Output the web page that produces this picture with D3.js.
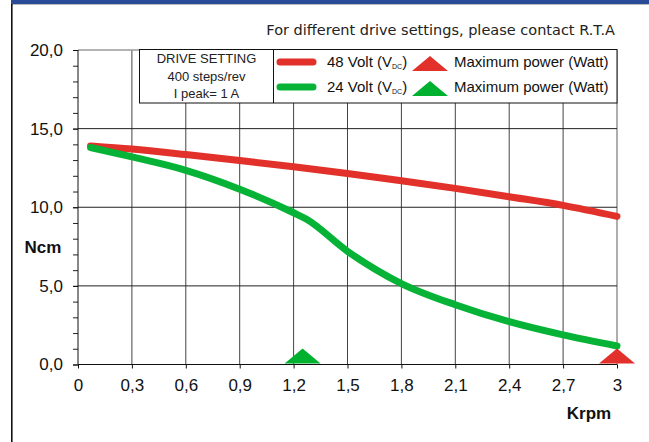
<!DOCTYPE html>
<html>
<head>
<meta charset="utf-8">
<script src="https://cdn.jsdelivr.net/npm/d3@7"></script>
<style>
  body { margin: 0; background: #fff; }
  svg { display: block; }
</style>
</head>
<body>
<svg id="chart"></svg>
<script>
// torque curves, Krpm -> Ncm
const speed48 = [0.07, 0.3, 0.6, 0.9, 1.2, 1.5, 1.8, 2.1, 2.4, 2.7, 3.0];
const torque48 = [13.9, 13.7, 13.35, 12.97, 12.58, 12.15, 11.68, 11.2, 10.67, 10.12, 9.42];
const speed24 = [0.07, 0.3, 0.6, 0.9, 1.2, 1.27, 1.5, 1.8, 2.1, 2.4, 2.7, 3.0];
const torque24 = [13.8, 13.2, 12.35, 11.15, 9.65, 9.25, 7.2, 5.15, 3.8, 2.72, 1.88, 1.18];

// max power markers (Krpm)
const maxPower48 = 3.0;
const maxPower24 = 1.25;

const xTicks = [0, 0.3, 0.6, 0.9, 1.2, 1.5, 1.8, 2.1, 2.4, 2.7, 3.0];
const xTickLabels = ["0", "0,3", "0,6", "0,9", "1,2", "1,5", "1,8", "2,1", "2,4", "2,7", "3"];
const yTicks = [0, 5, 10, 15, 20];
const yTickLabels = ["0,0", "5,0", "10,0", "15,0", "20,0"];
const yMinorTicks = d3.range(0, 21, 1);

const driveSetting = ["DRIVE SETTING", "400 steps/rev", "I peak= 1 A"];
const seriesNames = ["48 Volt (V", "24 Volt (V"];

const width = 649, height = 442;
const red = "#e2312a", green = "#06b337";
const font = "Arial, 'Liberation Sans', sans-serif";

const svg = d3.select("#chart").attr("width", width).attr("height", height);

// frame: blue top bar + left border
svg.append("rect").attr("x", 11).attr("y", 0).attr("width", width - 11).attr("height", 4).style("fill", "#284a97");
svg.append("line").attr("x1", 11).attr("x2", width).attr("y1", 4.5).attr("y2", 4.5).style("stroke", "#bbb");
svg.append("line").attr("x1", 11.8).attr("x2", 11.8).attr("y1", 4).attr("y2", height).style("stroke", "#111").style("stroke-width", 1.6);

svg.append("text")
  .attr("x", 615).attr("y", 35)
  .attr("text-anchor", "end")
  .text("For different drive settings, please contact R.T.A")
  .style("font-family", "'DejaVu Sans', sans-serif")
  .style("font-size", "14.5px")
  .style("fill", "#222");

const x = d3.scaleLinear().domain([0, 3]).range([78, 617]);
const y = d3.scaleLinear().domain([0, 20]).range([364.5, 50]);

// grid
svg.append("g").selectAll("line")
  .data(xTicks.slice(1))
  .enter().append("line")
  .attr("x1", d => x(d)).attr("x2", d => x(d))
  .attr("y1", y(20)).attr("y2", y(0))
  .style("stroke", d => d === 3 ? "#9a9a9a" : "#444")
  .style("stroke-width", d => d === 3 ? 1.6 : 1);

svg.append("g").selectAll("line")
  .data(yTicks.slice(1))
  .enter().append("line")
  .attr("x1", x(0)).attr("x2", x(3))
  .attr("y1", d => y(d)).attr("y2", d => y(d))
  .style("stroke", d => d === 20 ? "#9a9a9a" : "#222")
  .style("stroke-width", d => d === 20 ? 1.6 : 1);

// axes
const yMinor = svg.append("g")
  .attr("transform", `translate(${x(0)},0)`)
  .call(d3.axisLeft(y).tickValues(yMinorTicks).tickSize(5).tickFormat(""));
yMinor.select(".domain").remove();
yMinor.selectAll("line").style("stroke", "#222");

const yAxis = svg.append("g")
  .attr("transform", `translate(${x(0)},0)`)
  .call(d3.axisLeft(y).tickValues(yTicks).tickSize(5).tickPadding(10)
    .tickFormat((d, i) => yTickLabels[i]));
yAxis.select(".domain").style("stroke", "#111").attr("d", `M0,${y(20)}V${y(0)}`);
yAxis.selectAll("line").style("stroke", "#111");
yAxis.selectAll("text").style("font-family", font).style("font-size", "17px").style("fill", "#111");

const xAxis = svg.append("g")
  .attr("transform", `translate(0,${y(0)})`)
  .call(d3.axisBottom(x).tickValues(xTicks).tickSize(4).tickPadding(10)
    .tickFormat((d, i) => xTickLabels[i]));
xAxis.select(".domain").style("stroke", "#111").attr("d", `M${x(0)},0H${x(3)}`);
xAxis.selectAll("line").style("stroke", "#111");
xAxis.selectAll("text").style("font-family", font).style("font-size", "17px").style("fill", "#111");

svg.append("text").attr("x", 43).attr("y", 253).attr("text-anchor", "middle")
  .text("Ncm").style("font-family", font).style("font-weight", "bold").style("font-size", "17px").style("fill", "#111");
svg.append("text").attr("x", 589).attr("y", 419).attr("text-anchor", "middle")
  .text("Krpm").style("font-family", font).style("font-weight", "bold").style("font-size", "17px").style("fill", "#111");

// curves
const line = d3.line().x(d => x(d[0])).y(d => y(d[1])).curve(d3.curveMonotoneX);

svg.append("path")
  .datum(d3.zip(speed48, torque48))
  .attr("d", line)
  .style("fill", "none").style("stroke", red).style("stroke-width", 7).style("stroke-linecap", "round");

svg.append("path")
  .datum(d3.zip(speed24, torque24))
  .attr("d", line)
  .style("fill", "none").style("stroke", green).style("stroke-width", 7).style("stroke-linecap", "round");

// max power triangles
const tri = (cx, base) => `M${cx - 18},${base}L${cx},${base - 15}L${cx + 18},${base}Z`;
svg.append("path").attr("d", tri(x(maxPower24), y(0) - 1)).style("fill", "#00b02f");
svg.append("path").attr("d", tri(x(maxPower48), y(0) - 1)).style("fill", red);

// legend box
const lg = svg.append("g");
lg.append("rect").attr("x", 139.5).attr("y", 49.5).attr("width", 477.5).attr("height", 53.5)
  .style("fill", "#fff").style("stroke", "#111");
lg.append("line").attr("x1", 273.5).attr("x2", 273.5).attr("y1", 49.5).attr("y2", 103)
  .style("stroke", "#111");

lg.selectAll(".ds").data(driveSetting).enter().append("text")
  .attr("x", 206.5).attr("y", (d, i) => 62.7 + i * 17.8)
  .attr("text-anchor", "middle")
  .text(d => d)
  .style("font-family", font).style("font-size", "13px").style("fill", "#222");

const legendColors = [red, green];
seriesNames.forEach((name, i) => {
  const cy = 62 + i * 25;
  lg.append("line").attr("x1", 280).attr("x2", 313).attr("y1", cy).attr("y2", cy)
    .style("stroke", legendColors[i]).style("stroke-width", 7).style("stroke-linecap", "round");
  const t = lg.append("text").attr("x", 327).attr("y", cy + 5.3)
    .style("font-family", font).style("font-size", "15px").style("fill", "#111");
  t.append("tspan").text(name);
  t.append("tspan").text("DC").attr("dy", 2).style("font-size", "7px");
  t.append("tspan").text(")").attr("dy", -2);
  lg.append("path").attr("d", tri(430, cy + 9)).style("fill", i === 0 ? red : "#00b02f");
  lg.append("text").attr("x", 454).attr("y", cy + 5.3).text("Maximum power (Watt)")
    .style("font-family", font).style("font-size", "15px").style("fill", "#111");
});
</script>
</body>
</html>
